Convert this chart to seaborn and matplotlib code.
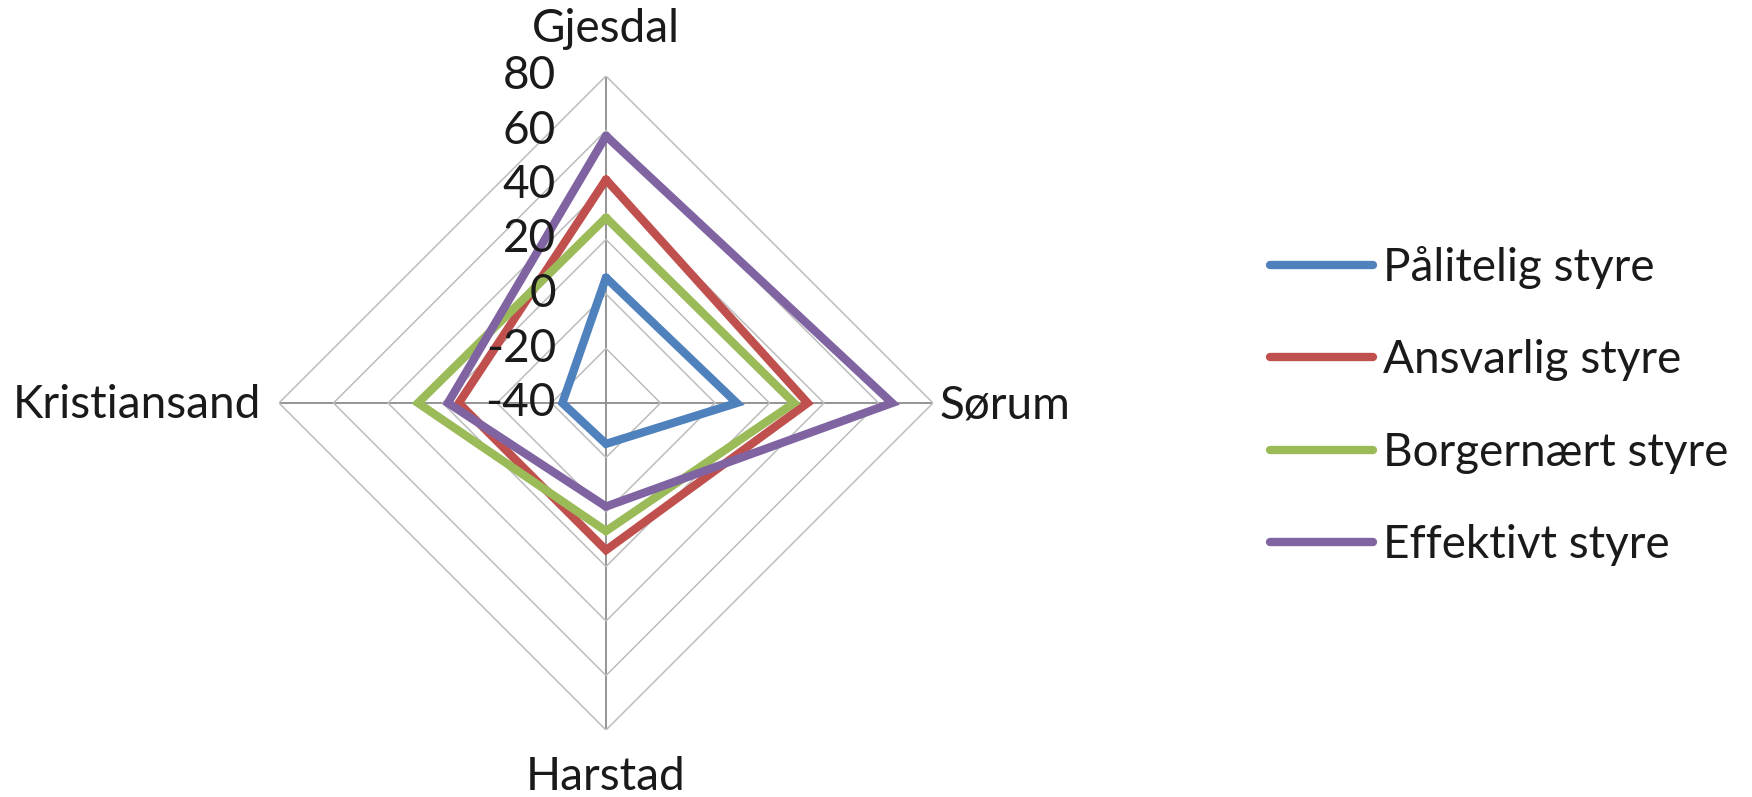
import numpy as np
import pandas as pd
import matplotlib
matplotlib.use("Agg")
import matplotlib.pyplot as plt
from matplotlib.lines import Line2D
from matplotlib.transforms import offset_copy
import seaborn as sns

# ---- data ----
categories = ["Gjesdal", "Sørum", "Harstad", "Kristiansand"]
series_names = ["Pålitelig styre", "Ansvarlig styre", "Borgernært styre", "Effektivt styre"]
palitelig = [6, 8, -25, -24]
ansvarlig = [42, 34, 14, 14]
borgernaert = [28, 29, 7, 29]
effektivt = [58, 65, -2, 18]
ring_values = [-40, -20, 0, 20, 40, 60, 80]
colors = ["#4F81BD", "#C0504D", "#9BBB59", "#8064A2"]

series_values = [palitelig, ansvarlig, borgernaert, effektivt]

sns.set_style("white")
plt.rcParams["font.family"] = ["Lato", "DejaVu Sans"]

n = len(categories)
angles = np.linspace(0, 2 * np.pi, n, endpoint=False)
angles_closed = np.append(angles, 2 * np.pi)

rows = []
for name, vals in zip(series_names, series_values):
    closed = list(vals) + [vals[0]]
    for i, (a, v) in enumerate(zip(angles_closed, closed)):
        rows.append({"series": name, "theta": a, "value": v, "order": i})
df = pd.DataFrame(rows)

W, H = 1752, 797
fig = plt.figure(figsize=(W / 100, H / 100), dpi=100)
cx, cy, R = 606, 394, 327
ax = fig.add_axes([(cx - R) / W, (cy - R) / H, 2 * R / W, 2 * R / H], projection="polar")
ax.set_theta_zero_location("N")
ax.set_theta_direction(-1)
ax.set_rlim(ring_values[0], ring_values[-1])

# polygon grid rings
for r in ring_values[1:]:
    ax.plot(angles_closed, [r] * len(angles_closed), color="#BDBDBD", lw=1.1, zorder=1)

ax.set_xticks(angles)
ax.set_xticklabels([])
ax.xaxis.grid(True, color="#8C8C8C", lw=1.3)
ax.yaxis.grid(False)
ax.set_yticks(ring_values)
ax.set_yticklabels([])
ax.spines["polar"].set_visible(False)
ax.tick_params(length=0)

sns.lineplot(data=df, x="theta", y="value", hue="series", hue_order=series_names,
             palette=colors, sort=False, estimator=None, units="series",
             lw=6, ax=ax, legend=False, zorder=3)
ax.set_xlabel("")
ax.set_ylabel("")
for ln in ax.get_lines()[-4:]:
    ln.set_solid_joinstyle("miter")

fs = 33
txt_color = "#1a1a1a"
# radial tick labels
for r in ring_values:
    ax.text(0, r, f"{r}", transform=offset_copy(ax.transData, fig=fig, x=-50, y=0, units="dots"),
            ha="right", va="center", fontsize=fs, color=txt_color, zorder=5)

# category labels
lab_specs = [
    (0, 0, 34, "center", "baseline"),
    (1, 7, -15, "left", "baseline"),
    (2, 0, -60, "center", "baseline"),
    (3, -18, -15, "right", "baseline"),
]
for idx, dx, dy, ha, va in lab_specs:
    ax.text(angles[idx], ring_values[-1], categories[idx],
            transform=offset_copy(ax.transData, fig=fig, x=dx, y=dy, units="dots"),
            ha=ha, va=va, fontsize=fs, color=txt_color)

handles = [Line2D([0], [0], color=c, lw=6, solid_capstyle="round") for c in colors]
fig.legend(handles, series_names, loc="center left", bbox_to_anchor=(1270 / W, 1 - 406 / H),
           frameon=False, fontsize=fs, handlelength=2.25, handletextpad=0.22,
           labelspacing=1.1, borderpad=0, borderaxespad=0, labelcolor=txt_color)

fig.savefig("out.png", dpi=100, facecolor="white")
